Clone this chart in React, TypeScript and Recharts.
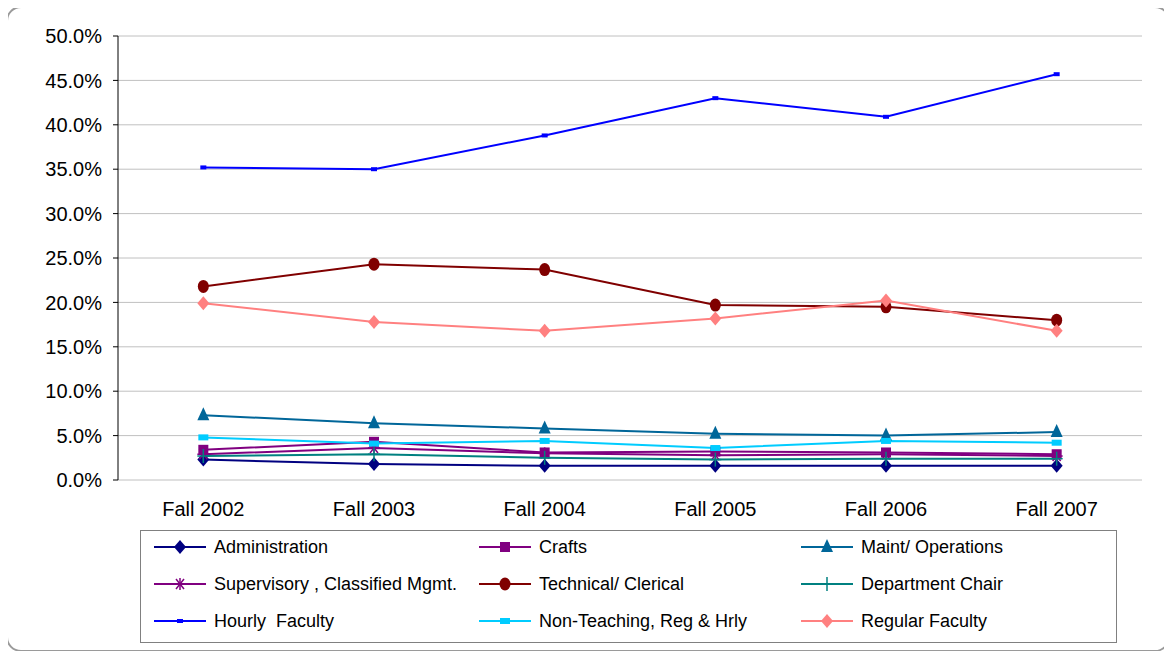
import React from 'react';
import { LineChart, Line, XAxis, YAxis, CartesianGrid } from 'recharts';

const categories = ['Fall 2002', 'Fall 2003', 'Fall 2004', 'Fall 2005', 'Fall 2006', 'Fall 2007'];
const administration = [2.3, 1.8, 1.6, 1.6, 1.6, 1.6];
const crafts = [3.4, 4.3, 3.1, 3.2, 3.1, 2.9];
const maintOperations = [7.3, 6.4, 5.8, 5.2, 5.0, 5.4];
const supervisory = [2.9, 3.6, 3.0, 2.8, 2.9, 2.7];
const technicalClerical = [21.8, 24.3, 23.7, 19.7, 19.5, 18.0];
const departmentChair = [2.7, 2.9, 2.5, 2.3, 2.4, 2.4];
const hourlyFaculty = [35.2, 35.0, 38.8, 43.0, 40.9, 45.7];
const nonTeaching = [4.8, 4.1, 4.4, 3.6, 4.4, 4.2];
const regularFaculty = [19.9, 17.8, 16.8, 18.2, 20.2, 16.8];
const yTicks = [0, 5, 10, 15, 20, 25, 30, 35, 40, 45, 50];
const centerTicks = [0, 1, 2, 3, 4, 5];
const boundaryTicks = [-0.5, 0.5, 1.5, 2.5, 3.5, 4.5, 5.5];

const data = categories.map((c, i) => ({
  i,
  cat: c,
  administration: administration[i],
  crafts: crafts[i],
  maint: maintOperations[i],
  supervisory: supervisory[i],
  technical: technicalClerical[i],
  chair: departmentChair[i],
  hourly: hourlyFaculty[i],
  nonTeaching: nonTeaching[i],
  regular: regularFaculty[i],
}));

type Shape = 'diamond' | 'square' | 'triangle' | 'star' | 'circle' | 'plus' | 'dash' | 'wdash';

function Marker({ shape, cx, cy, color }: { shape: Shape; cx: number; cy: number; color: string }) {
  switch (shape) {
    case 'diamond':
      return <path d={`M${cx},${cy - 7} L${cx + 6},${cy} L${cx},${cy + 7} L${cx - 6},${cy} Z`} fill={color} />;
    case 'square':
      return <rect x={cx - 5} y={cy - 5} width={10} height={10} fill={color} />;
    case 'triangle':
      return <path d={`M${cx},${cy - 8} L${cx + 6},${cy + 5} L${cx - 6},${cy + 5} Z`} fill={color} />;
    case 'star':
      return (
        <g stroke={color} strokeWidth={1.5}>
          <line x1={cx - 6} y1={cy} x2={cx + 6} y2={cy} />
          <line x1={cx - 4} y1={cy - 5} x2={cx + 4} y2={cy + 5} />
          <line x1={cx + 4} y1={cy - 5} x2={cx - 4} y2={cy + 5} />
          <line x1={cx} y1={cy - 6} x2={cx} y2={cy + 6} />
        </g>
      );
    case 'circle':
      return <ellipse cx={cx} cy={cy} rx={5.5} ry={6.5} fill={color} />;
    case 'plus':
      return (
        <g stroke={color} strokeWidth={1.5}>
          <line x1={cx - 6} y1={cy} x2={cx + 6} y2={cy} />
          <line x1={cx} y1={cy - 7} x2={cx} y2={cy + 7} />
        </g>
      );
    case 'dash':
      return <rect x={cx - 3} y={cy - 2} width={6} height={4} fill={color} />;
    case 'wdash':
      return <rect x={cx - 5} y={cy - 3} width={10} height={6} fill={color} />;
  }
  return null;
}

const series: { key: string; name: string; color: string; shape: Shape }[] = [
  { key: 'administration', name: 'Administration', color: '#000080', shape: 'diamond' },
  { key: 'crafts', name: 'Crafts', color: '#800080', shape: 'square' },
  { key: 'maint', name: 'Maint/ Operations', color: '#006699', shape: 'triangle' },
  { key: 'supervisory', name: 'Supervisory , Classified Mgmt.', color: '#800080', shape: 'star' },
  { key: 'technical', name: 'Technical/ Clerical', color: '#800000', shape: 'circle' },
  { key: 'chair', name: 'Department Chair', color: '#008080', shape: 'plus' },
  { key: 'hourly', name: 'Hourly  Faculty', color: '#0000FF', shape: 'dash' },
  { key: 'nonTeaching', name: 'Non-Teaching, Reg & Hrly', color: '#00CCFF', shape: 'wdash' },
  { key: 'regular', name: 'Regular Faculty', color: '#FF8080', shape: 'diamond' },
];

const font = '"Liberation Sans", Arial, sans-serif';

function LegendBox() {
  const colLeft = [13, 338, 660];
  return (
    <div
      style={{
        position: 'absolute',
        left: 132,
        top: 522,
        width: 975,
        height: 111,
        border: '1px solid #808080',
        background: '#fff',
        fontFamily: font,
        fontSize: 18,
        color: '#000',
      }}
    >
      {series.map((s, idx) => {
        const row = Math.floor(idx / 3);
        const col = idx % 3;
        return (
          <div
            key={s.key}
            style={{
              position: 'absolute',
              left: colLeft[col],
              top: 4 + row * 37,
              height: 24,
              display: 'flex',
              alignItems: 'center',
              whiteSpace: 'pre',
            }}
          >
            <svg width={54} height={20} style={{ marginRight: 6 }}>
              <line x1={0} y1={10} x2={52} y2={10} stroke={s.color} strokeWidth={2} />
              <Marker shape={s.shape} cx={26} cy={10} color={s.color} />
            </svg>
            <span>{s.name}</span>
          </div>
        );
      })}
    </div>
  );
}

export default function App() {
  return (
    <div
      style={{
        position: 'relative',
        marginLeft: -2,
        marginTop: -2,
        width: 1160,
        height: 642,
        border: '2px solid #9a9a9a',
        borderRadius: 15,
        background: '#fff',
      }}
    >
      <LineChart
        width={1150}
        height={640}
        data={data}
        margin={{ top: 28, right: 16, left: 0, bottom: 128 }}
      >
        <CartesianGrid horizontal vertical={false} stroke="#c0c0c0" strokeWidth={1} />
        <XAxis
          xAxisId="b"
          type="number"
          dataKey="i"
          domain={[-0.5, 5.5]}
          ticks={boundaryTicks}
          tick={false}
          height={0}
          tickSize={6}
          axisLine={{ stroke: '#000' }}
          tickLine={{ stroke: '#000' }}
        />
        <XAxis
          xAxisId={0}
          type="number"
          dataKey="i"
          domain={[-0.5, 5.5]}
          ticks={centerTicks}
          tickFormatter={(v: number) => categories[v] ?? ''}
          axisLine={false}
          tickLine={false}
          height={40}
          tickMargin={16}
          tick={{ fill: '#000', fontSize: 20, fontFamily: font }}
        />
        <YAxis
          type="number"
          domain={[0, 50]}
          ticks={yTicks}
          width={110}
          tickFormatter={(v: number) => `${v.toFixed(1)}%`}
          axisLine={{ stroke: '#000' }}
          tickLine={{ stroke: '#000' }}
          tickSize={5}
          tickMargin={11}
          tick={{ fill: '#000', fontSize: 20, fontFamily: font }}
          interval={0}
        />
        {series.map((s) => (
          <Line
            key={s.key}
            dataKey={s.key}
            name={s.name}
            stroke={s.color}
            strokeWidth={2}
            isAnimationActive={false}
            dot={(p: any) => <Marker key={`${s.key}-${p.index}`} shape={s.shape} cx={p.cx} cy={p.cy} color={s.color} />}
            activeDot={false}
          />
        ))}
      </LineChart>
      <LegendBox />
    </div>
  );
}
